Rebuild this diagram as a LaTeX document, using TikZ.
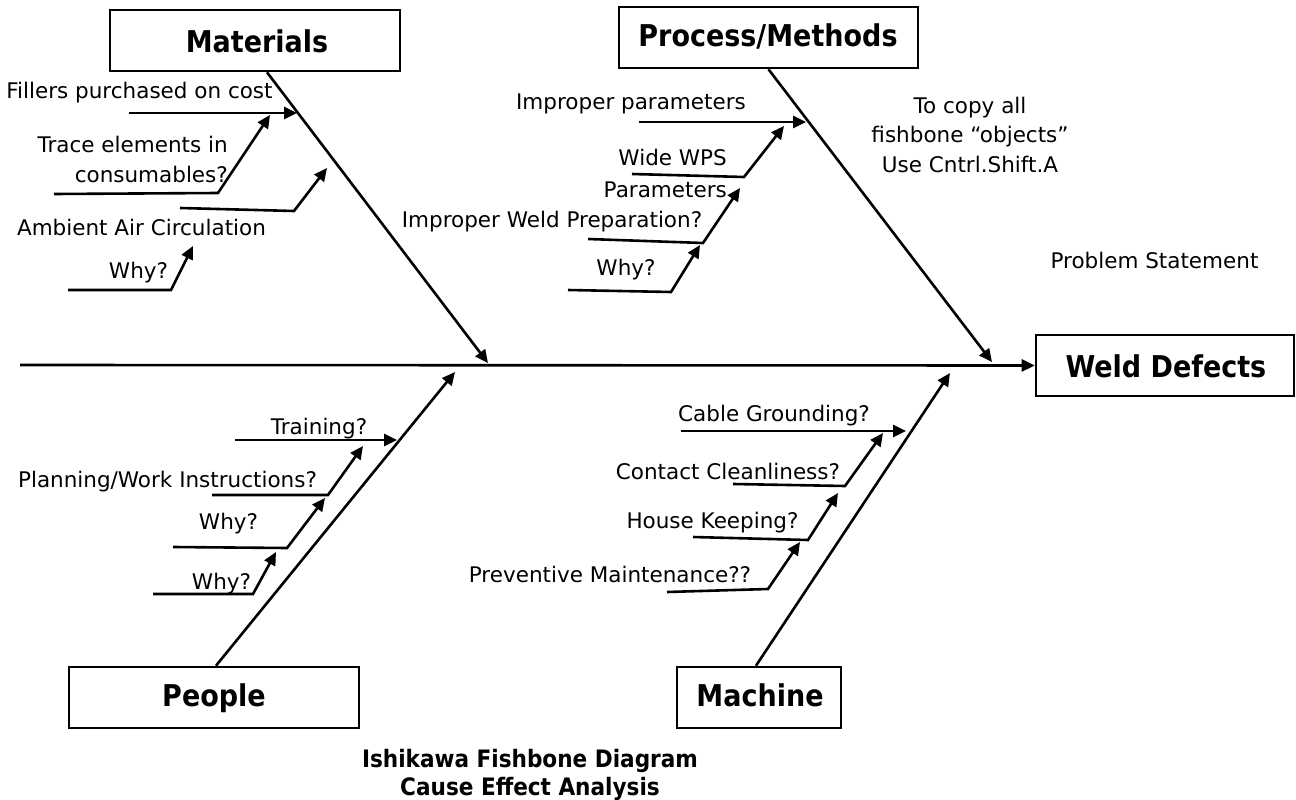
\documentclass[tikz,border=0pt]{standalone}
\usepackage{fontspec}
\setmainfont{DejaVu Sans}
\newfontfamily\condfont{DejaVu Sans Condensed}
\usetikzlibrary{arrows.meta}
\begin{document}
\begin{tikzpicture}[x=1pt,y=-1pt,
  bone/.style={line width=2.6pt,-{Triangle[length=13pt,width=12pt]}},
  catbox/.style={draw,line width=2.6pt,minimum height=61pt,inner sep=0pt},
  cattxt/.style={font=\condfont\bfseries\fontsize{30}{34}\selectfont,inner sep=0pt,anchor=base},
  lbl/.style={font=\fontsize{21.5}{30}\selectfont,inner sep=0pt,anchor=base},
  ttl/.style={font=\condfont\bfseries\fontsize{24}{28}\selectfont,inner sep=0pt,anchor=base,align=center}
]
\useasboundingbox (0,0) rectangle (1296,800);
% category boxes
\node[catbox,minimum width=290pt] (mat) at (255,40.5) {};
\node[catbox,minimum width=299pt] (proc) at (768.5,37.5) {};
\node[catbox,minimum width=290pt] (ppl) at (214,697.5) {};
\node[catbox,minimum width=164pt] (mach) at (759,697.5) {};
\node[catbox,minimum width=258pt] (weld) at (1165,365.5) {};
\node[cattxt] (matt) at (257,53) {Materials};
\node[cattxt] (proct) at (768,47) {Process/Methods};
\node[cattxt] (pplt) at (214,706) {People};
\node[cattxt] (macht) at (760,706) {Machine};
\node[cattxt] (weldt) at (1166,377) {Weld Defects};
% spine
\coordinate (tail) at (20,365);
\draw[bone] (tail) -- (weld.west);
% main bones
\coordinate (mtip) at (488,363);
\coordinate (ptip) at (992,362);
\coordinate (ftip) at (455,372);
\coordinate (ctip) at (950,373);
\draw[bone] ([xshift=12pt]mat.south) -- (mtip);
\draw[bone] (proc.south) -- (ptip);
\draw[bone] ([xshift=2pt]ppl.north) -- (ftip);
\draw[bone] ([xshift=-3pt]mach.north) -- (ctip);
% Materials sub-bones
\coordinate (a1s) at (129,113); \coordinate (a1t) at (297,113);
\draw[bone] (a1s) -- (a1t);
\coordinate (a2s) at (54,194); \coordinate (a2b) at (218,193); \coordinate (a2t) at (270,115);
\draw[bone] (a2s) -- (a2b) -- (a2t);
\coordinate (a3s) at (180,208); \coordinate (a3b) at (294,211); \coordinate (a3t) at (327,168);
\draw[bone] (a3s) -- (a3b) -- (a3t);
\coordinate (a4s) at (68,290); \coordinate (a4b) at (171,290); \coordinate (a4t) at (193,246);
\draw[bone] (a4s) -- (a4b) -- (a4t);
\node[lbl] (l1) at (139.5,99) {Fillers purchased on cost};
\node[lbl,align=right,anchor=base east] (l2) at (228,182) {Trace elements in\\consumables?};
\node[lbl] (l3) at (141.5,235) {Ambient Air Circulation};
\node[lbl] (l4) at (138.5,278) {Why?};
% Process sub-bones
\coordinate (b1s) at (639,122); \coordinate (b1t) at (806,122);
\draw[bone] (b1s) -- (b1t);
\coordinate (b2s) at (632,174); \coordinate (b2b) at (744,177); \coordinate (b2t) at (784,126);
\draw[bone] (b2s) -- (b2b) -- (b2t);
\coordinate (b3s) at (588,239); \coordinate (b3b) at (703,243); \coordinate (b3t) at (740,188);
\draw[bone] (b3s) -- (b3b) -- (b3t);
\coordinate (b4s) at (568,290); \coordinate (b4b) at (671,292); \coordinate (b4t) at (700,245);
\draw[bone] (b4s) -- (b4b) -- (b4t);
\node[lbl] (m1) at (631,110) {Improper parameters};
\node[lbl,align=right,anchor=base east,font=\fontsize{21.5}{32}\selectfont] (m2) at (727,197) {Wide WPS\\Parameters};
\node[lbl] (m3) at (552,227) {Improper Weld Preparation?};
\node[lbl] (m4) at (626,275) {Why?};
% People sub-bones
\coordinate (c1s) at (235,440); \coordinate (c1t) at (397,440);
\draw[bone] (c1s) -- (c1t);
\coordinate (c2s) at (212,495); \coordinate (c2b) at (328,495); \coordinate (c2t) at (363,446);
\draw[bone] (c2s) -- (c2b) -- (c2t);
\coordinate (c3s) at (173,547); \coordinate (c3b) at (287,548); \coordinate (c3t) at (325,498);
\draw[bone] (c3s) -- (c3b) -- (c3t);
\coordinate (c4s) at (153,594); \coordinate (c4b) at (253,594); \coordinate (c4t) at (276,552);
\draw[bone] (c4s) -- (c4b) -- (c4t);
\node[lbl] (p1) at (319,434) {Training?};
\node[lbl] (p2) at (167.5,487) {Planning/Work Instructions?};
\node[lbl] (p3) at (228.5,529) {Why?};
\node[lbl] (p4) at (221.5,589) {Why?};
% Machine sub-bones
\coordinate (d1s) at (681,431); \coordinate (d1t) at (906,431);
\draw[bone] (d1s) -- (d1t);
\coordinate (d2s) at (733,484); \coordinate (d2b) at (845,486); \coordinate (d2t) at (883,433);
\draw[bone] (d2s) -- (d2b) -- (d2t);
\coordinate (d3s) at (693,537); \coordinate (d3b) at (808,540); \coordinate (d3t) at (838,493);
\draw[bone] (d3s) -- (d3b) -- (d3t);
\coordinate (d4s) at (667,592); \coordinate (d4b) at (768,589); \coordinate (d4t) at (800,542);
\draw[bone] (d4s) -- (d4b) -- (d4t);
\node[lbl] (q1) at (774,421) {Cable Grounding?};
\node[lbl] (q2) at (728,479) {Contact Cleanliness?};
\node[lbl] (q3) at (712.5,528) {House Keeping?};
\node[lbl] (q4) at (610,582) {Preventive Maintenance??};
% notes
\node[lbl,align=center,font=\fontsize{21.5}{29.5}\selectfont] (note) at (970,172) {To copy all\\fishbone “objects”\\Use Cntrl.Shift.A};
\node[lbl] (prob) at (1154.5,268) {Problem Statement};
\node[ttl] (title) at (530,795) {Ishikawa Fishbone Diagram\\Cause Effect Analysis};
\end{tikzpicture}
\end{document}
